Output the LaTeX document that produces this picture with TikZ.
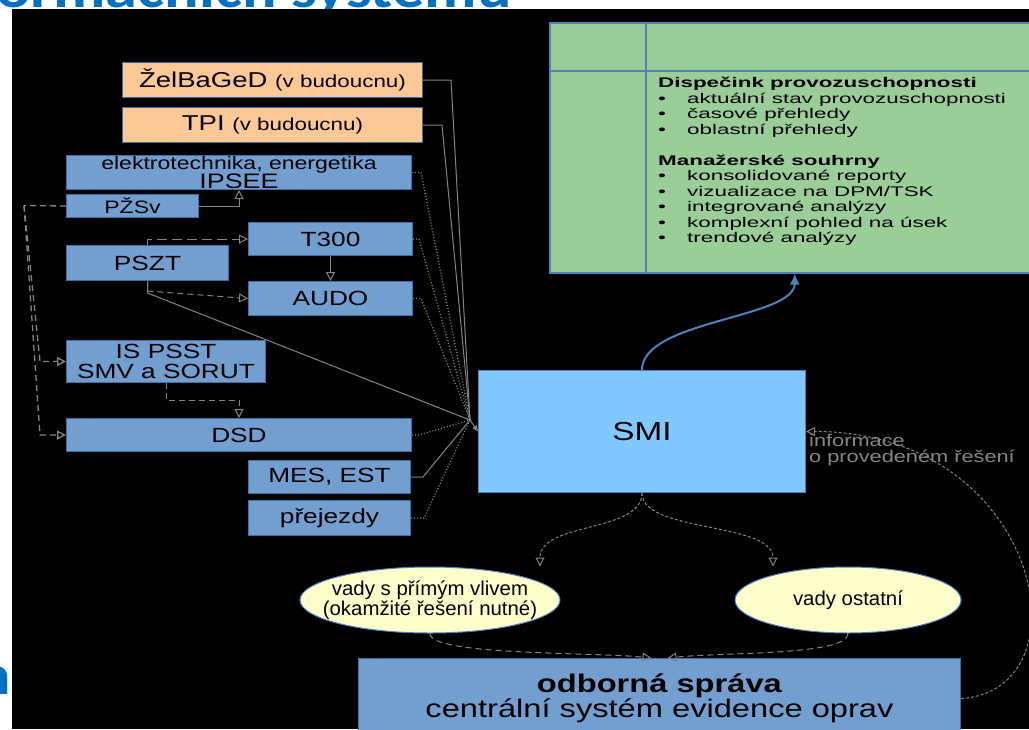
\documentclass[tikz,border=0pt]{standalone}
\usepackage{fontspec}
\setmainfont{Liberation Sans}[FakeStretch=1.28]
\newfontfamily\greenfont{Liberation Sans}[FakeStretch=1.6]
\newfontfamily\narrowfont{Liberation Sans}[FakeStretch=1.02]
\newfontfamily\headfont{Carlito}[FakeStretch=1.15]
\usetikzlibrary{arrows.meta, positioning, shapes.geometric}

\definecolor{boxblue}{HTML}{729FCF}
\definecolor{boxedge}{HTML}{3F6EA5}
\definecolor{peach}{HTML}{FCC896}
\definecolor{mint}{HTML}{9ACD98}
\definecolor{smiblue}{HTML}{80C8FF}
\definecolor{cream}{HTML}{FFFFCC}
\definecolor{wiregray}{HTML}{858585}
\definecolor{titleblue}{HTML}{0070C0}
\definecolor{arrowblue}{HTML}{4F81BD}

\begin{document}
\begin{tikzpicture}[x=1pt, y=-1pt,
    sys/.style={draw=boxedge, fill=boxblue, line width=1pt, anchor=north west,
      inner sep=0pt, align=center, font=\fontsize{20.5}{21}\selectfont},
    future/.style={sys, fill=peach},
    defect/.style={ellipse, draw=arrowblue, fill=cream, line width=1pt,
      inner sep=0pt, align=center, font=\narrowfont\fontsize{20}{20}\selectfont},
    wire/.style={draw=wiregray, line width=1pt},
    dotwire/.style={wire, dotted, line width=1.3pt},
    dashwire/.style={wire, dash pattern=on 6pt off 4pt},
    hollow/.style={-{Triangle[open, length=9pt, width=9pt]}}]
  \useasboundingbox (0,0) rectangle (1029,729);
  \fill[white] (0,0) rectangle (1029,729);

  % slide behind the picture
  \node[anchor=base east, inner sep=0pt, text=titleblue,
    font=\headfont\bfseries\fontsize{56}{60}\selectfont] (title) at (512,7) {Informačních systémů};
  \node[anchor=base east, inner sep=0pt, text=titleblue,
    font=\headfont\bfseries\fontsize{56}{60}\selectfont] (tailn) at (11.5,694) {n};
  \fill[black] (12,9) rectangle (1029,729);

  % source systems
  \node[future, minimum width=300, minimum height=35] (zelba) at (122,62)
    {\fontsize{21.5}{22}\selectfont ŽelBaGeD {\fontsize{17.5}{18}\selectfont (v budoucnu)}};
  \node[future, minimum width=300, minimum height=35] (tpi) at (122,107)
    {\fontsize{21.5}{22}\selectfont TPI {\fontsize{17.5}{18}\selectfont (v budoucnu)}};
  \node[sys, minimum width=345, minimum height=34, font=\fontsize{18}{17}\selectfont] (ipsee) at (66,155)
    {elektrotechnika, energetika\\{\fontsize{21}{17}\selectfont IPSEE}};
  \node[sys, minimum width=132, minimum height=23, font=\fontsize{18}{18}\selectfont] (pzsv) at (66,194) {PŽSv};
  \node[sys, minimum width=164, minimum height=33] (t300) at (248,222) {T300};
  \node[sys, minimum width=162, minimum height=35] (pszt) at (66,245) {PSZT};
  \node[sys, minimum width=164, minimum height=34] (audo) at (248,281) {AUDO};
  \node[sys, minimum width=199, minimum height=42, font=\fontsize{20.5}{19.5}\selectfont] (psst) at (66,340)
    {IS PSST\\SMV a SORUT};
  \node[sys, minimum width=345, minimum height=33] (dsd) at (66,418) {DSD};
  \node[sys, minimum width=162, minimum height=33] (mes) at (248,460) {MES, EST};
  \node[sys, minimum width=162, minimum height=35] (prej) at (248,500) {přejezdy};

  \node[draw=arrowblue, fill=smiblue, line width=1pt, anchor=north west,
    minimum width=327, minimum height=122, font=\fontsize{26}{28}\selectfont] (smi) at (478,370) {SMI};
  \coordinate (conv) at (470,420);

  % outputs
  \node[draw=arrowblue, fill=mint, line width=1.5pt, anchor=north west,
    minimum width=490, minimum height=250] (disp) at (549,22) {};
  \draw[arrowblue, line width=1.5pt] (646,22) -- (646,272) (549,71) -- (1040,71);
  \node[anchor=north west, inner sep=0pt, align=left,
    font=\greenfont\fontsize{14}{15.5}\selectfont] (disptext) at (658,77)
    {\textbf{Dispečink provozuschopnosti}\\
     \makebox[29pt][l]{•}aktuální stav provozuschopnosti\\
     \makebox[29pt][l]{•}časové přehledy\\
     \makebox[29pt][l]{•}oblastní přehledy\\[15.5pt]
     \textbf{Manažerské souhrny}\\
     \makebox[29pt][l]{•}konsolidované reporty\\
     \makebox[29pt][l]{•}vizualizace na DPM/TSK\\
     \makebox[29pt][l]{•}integrované analýzy\\
     \makebox[29pt][l]{•}komplexní pohled na úsek\\
     \makebox[29pt][l]{•}trendové analýzy};

  \node[defect, minimum width=260, minimum height=66, inner xsep=-20pt, inner ysep=-3pt] (vadyA) at (430,600)
    {vady s přímým vlivem\\(okamžité řešení nutné)};
  \node[defect, minimum width=226, minimum height=66] (vadyB) at (848,600) {vady ostatní};
  \node[sys, minimum width=602, minimum height=80, font=\fontsize{25.5}{25}\selectfont] (odborna) at (358,658)
    {\textbf{odborná správa}\\centrální systém evidence oprav};
  \node[anchor=north west, inner sep=0pt, align=left, text=wiregray,
    font=\fontsize{17}{16}\selectfont] (info) at (809,434) {informace\\o provedeném řešení};

  % links between the source systems
  \draw[wire, hollow] (pzsv.east) -| (ipsee.south);
  \draw[wire, hollow, dash pattern=on 10pt off 5pt] (pszt.north) |- (t300.west);
  \draw[wire, hollow] (t300.south) -- (audo.north);
  \draw[dashwire, hollow] (pszt.south) -- ++(0,10) -- (audo.west);
  \draw[dashwire, hollow] (psst.south) -- ++(0,17) -| (dsd.north);
  \coordinate (fork) at (24,205.5);
  \draw[dashwire, line width=1.3pt] (pzsv.west) -- (fork);
  \draw[dashwire, line width=1.3pt, hollow] (fork) -- ([xshift=-26]psst.west) -- (psst.west);
  \draw[dashwire, line width=1.3pt, hollow] (fork) -- ([xshift=-26]dsd.west) -- (dsd.west);

  % everything runs into SMI
  \draw[wire] (zelba.east) -- ++(28,0) -- (conv);
  \draw[wire] (tpi.east) -- ++(19,0) -- (conv);
  \draw[dotwire] (ipsee.east) -- ++(9,0) -- (conv);
  \draw[dotwire] (t300.east) -- ++(6,0) -- (conv);
  \draw[dotwire] (audo.east) -- ++(8,0) -- (conv);
  \draw[wire] (pszt.south) -- ++(0,12) -- (conv);
  \draw[dotwire] (dsd.east) -- ++(7,0) -- (conv);
  \draw[wire] (mes.east) -- ++(12,0) -- (conv);
  \draw[dotwire] (prej.east) -- ++(13,0) -- (conv);
  \draw[wire, -{Triangle[length=6pt, width=5pt]}] (conv) -- (smi.west);

  \draw[arrowblue, line width=2pt, -{Latex[length=11pt, width=10pt]}]
    (smi.north) .. controls +(0,-50) and +(0,45) .. (disp.south);
  \draw[dashwire, dash pattern=on 3pt off 2pt, hollow]
    (smi.south) .. controls +(0,40) and +(0,-45) .. ([xshift=110]vadyA.north);
  \draw[dashwire, dash pattern=on 3pt off 2pt, hollow]
    (smi.south) .. controls +(0,40) and +(0,-45) .. ([xshift=-75]vadyB.north);
  \draw[dashwire, hollow]
    (vadyA.south) .. controls +(0,22) and +(-60,-6) .. ([xshift=-8]odborna.north);
  \draw[dashwire, hollow]
    (vadyB.south) .. controls +(0,22) and +(60,-6) .. ([xshift=8]odborna.north);
  \draw[dashwire, dash pattern=on 3pt off 2pt, hollow]
    (odborna.east) .. controls +(130,-8) and +(235,0) .. (smi.east);
\end{tikzpicture}
\end{document}
